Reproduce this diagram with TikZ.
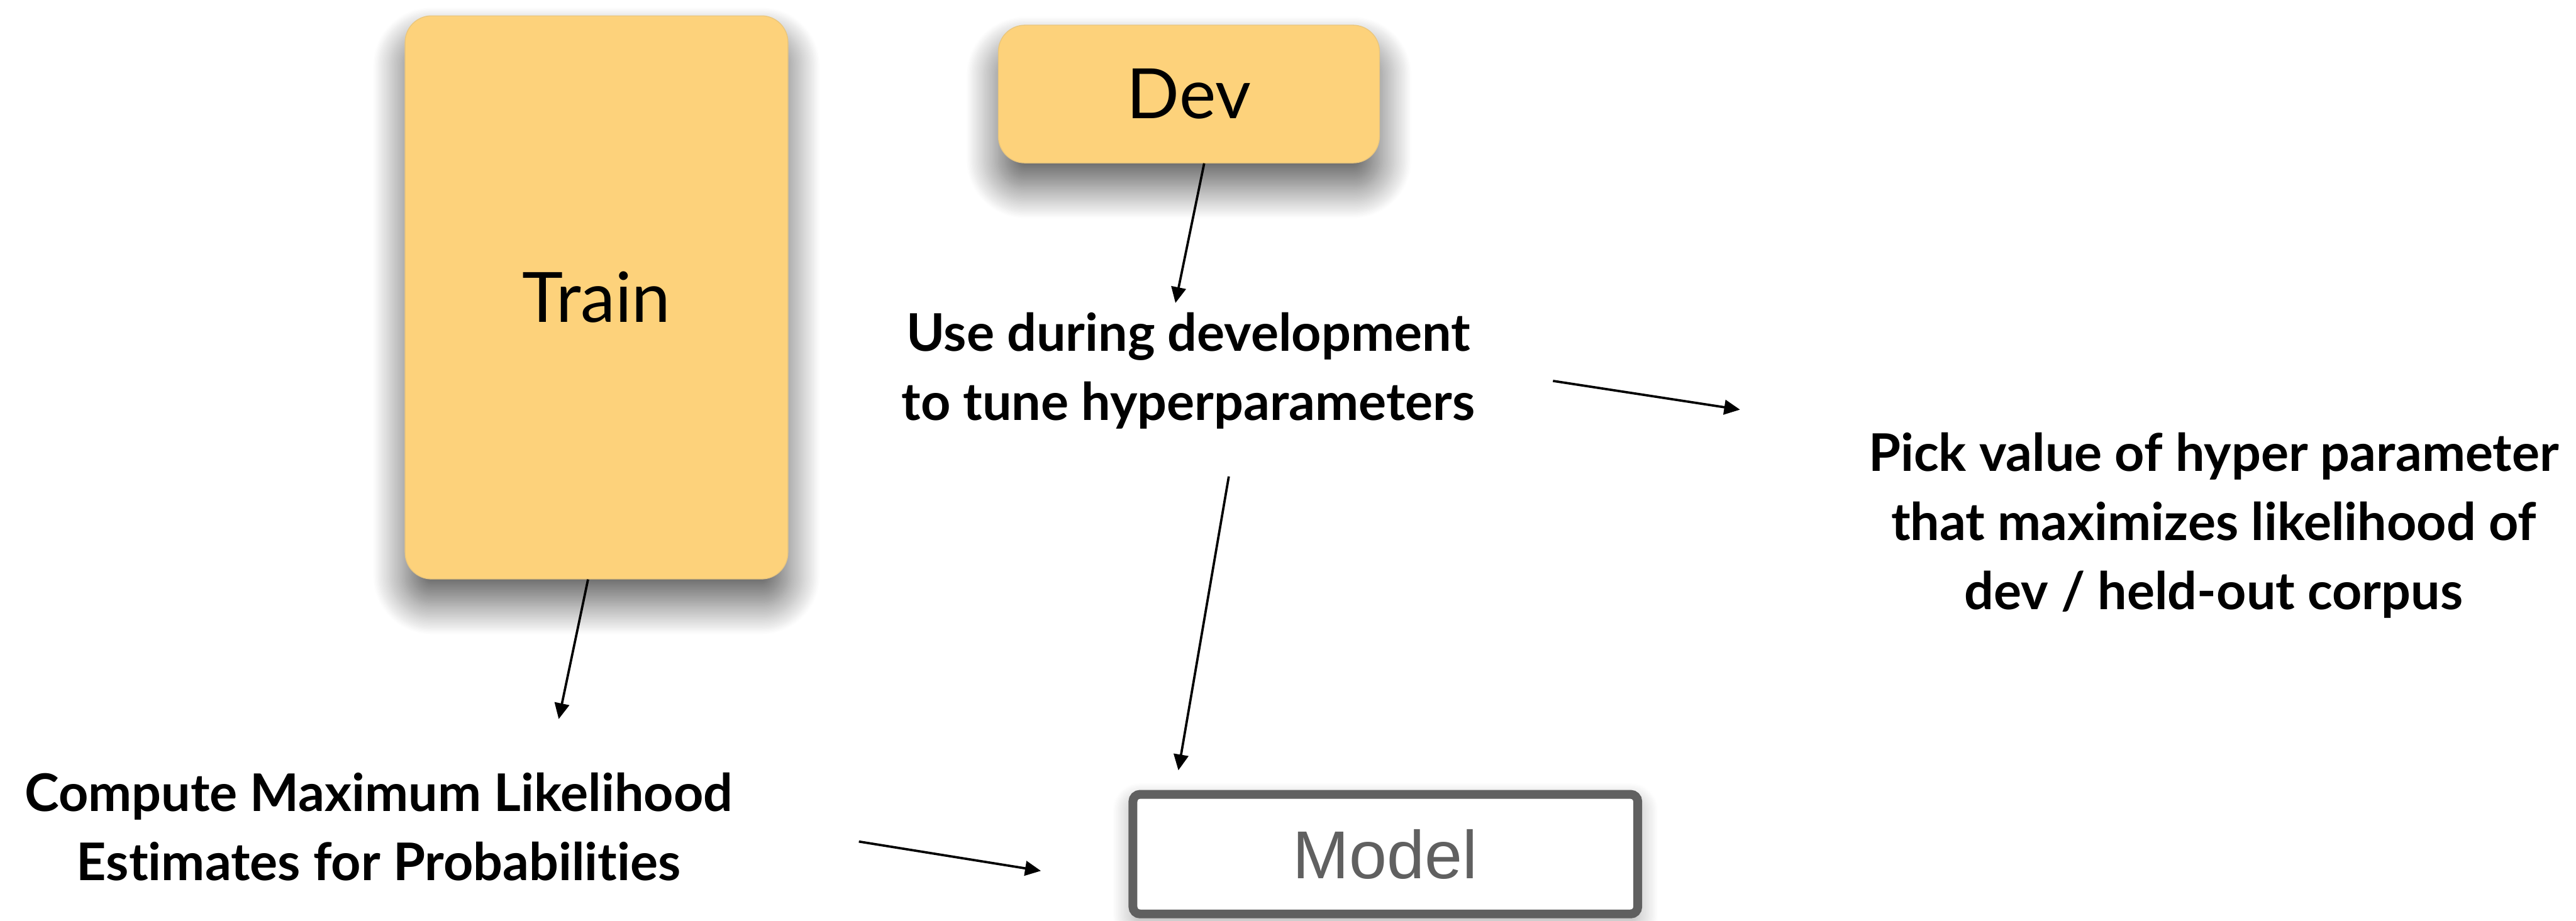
\documentclass[tikz,border=0pt]{standalone}
\usepackage{fontspec}
\setmainfont{Lato}[Ligatures={NoCommon}]
\newfontfamily\modelfont{Liberation Sans}
\usetikzlibrary{arrows.meta,calc,shadows.blur}
\definecolor{notepad}{HTML}{FDD27B}
\definecolor{modelgray}{HTML}{606060}
\tikzset{
	card/.style={fill=notepad, draw=notepad!85!gray, line width=0.4pt, rounded corners=0.45cm, inner sep=0pt,
		blur shadow={shadow xshift=0cm, shadow yshift=-0.4cm, shadow blur radius=0.55cm, shadow blur steps=40, shadow opacity=65},
		font=\fontsize{33.7}{40}\selectfont},
	note/.style={align=center, anchor=base, font=\fontsize{25.2}{33.6}\selectfont\bfseries},
	arr/.style={-{Triangle[length=0.27cm, width=0.25cm]}, line width=0.04cm},
}

\begin{document}
\begin{tikzpicture}
		%%%%% START %%%%%
		\useasboundingbox (0, 0) rectangle (43.94, -15.71);
		
		\node[card, minimum width=6.53cm, minimum height=9.61cm] (train) at (10.175, -5.075) {Train};
		\node[card, minimum width=6.5cm, minimum height=2.35cm] (dev) at (20.28, -1.605) {Dev};
		
		\node[fill=white, draw=modelgray, line width=0.15cm, rounded corners=0.12cm, text=modelgray,
			minimum width=8.61cm, minimum height=2.04cm, inner sep=0pt,
			blur shadow={shadow xshift=0cm, shadow yshift=-0.15cm, shadow blur radius=0.35cm, shadow blur steps=30, shadow opacity=35},
			font=\modelfont\fontsize{32.9}{40}\selectfont] (model) at (23.63, -14.575) {Model};
		
		% base = baseline of the last line
		\node[note] (tune) at (20.27, -7.17) {Use during development\\to tune hyperparameters};
		\node[note] (pick) at (37.76, -10.40) {Pick value of hyper parameter\\that maximizes likelihood of\\dev / held-out corpus};
		\node[note] (mle) at (6.46, -15.02) {Compute Maximum Likelihood\\Estimates for Probabilities};
		
		\draw[arr] ([xshift=-1.45mm]train.south) -- ([shift={(3.07, 2.75)}]mle.base);
		\draw[arr] ([xshift=2.6mm]dev.south) -- ([shift={(-0.22, 2.00)}]tune.base);
		\draw[arr] ([shift={(6.22, 0.67)}]tune.base) -- ([shift={(-8.08, 3.41)}]pick.base);
		\draw[arr] ([shift={(0.69, -0.96)}]tune.base) -- ([shift={(-3.53, 0.335)}]model.north);
		\draw[arr] ([shift={(8.19, 0.66)}]mle.base) -- ([shift={(-1.495, -0.285)}]model.west);
		
		%%%%% END %%%%%
\end{tikzpicture}
\end{document}
